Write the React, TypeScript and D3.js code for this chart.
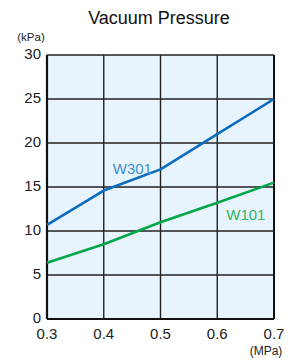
import React, { useEffect, useRef } from 'react'
import * as d3 from 'd3'

const pressures = [0.3, 0.4, 0.5, 0.6, 0.7]
const w301 = [10.7, 14.6, 17.0, 21.0, 25.0]
const w101 = [6.4, 8.5, 11.0, 13.2, 15.5]
const yTicks = [0, 5, 10, 15, 20, 25, 30]

const series = [
  { name: 'W301', values: w301, color: '#0b6cbf', labelColor: '#3d8fd1', labelAt: [0.4, 16.5] },
  { name: 'W101', values: w101, color: '#00a648', labelColor: '#2fb462', labelAt: [0.6, 11.3] },
]

const W = 298
const H = 358
const margin = { top: 55, right: 24, bottom: 39, left: 47 }

const App = () => {
  const ref = useRef<SVGGElement>(null)

  useEffect(() => {
    const g = d3.select(ref.current)
    g.selectAll('*').remove()
    const iw = W - margin.left - margin.right
    const ih = H - margin.top - margin.bottom
    const x = d3.scaleLinear().domain([0.3, 0.7]).range([0, iw])
    const y = d3.scaleLinear().domain([0, 30]).range([ih, 0])
    const font = '"Liberation Sans", Arial, sans-serif'

    g.append('rect')
      .attr('width', iw)
      .attr('height', ih)
      .attr('fill', '#e8f4fd')

    // grid
    g.selectAll('line.h')
      .data(yTicks)
      .enter()
      .append('line')
      .attr('x1', 0)
      .attr('x2', iw)
      .attr('y1', d => y(d))
      .attr('y2', d => y(d))
      .attr('stroke', '#222')
      .attr('stroke-width', 1.4)
    g.selectAll('line.v')
      .data(pressures)
      .enter()
      .append('line')
      .attr('y1', 0)
      .attr('y2', ih)
      .attr('x1', d => x(d))
      .attr('x2', d => x(d))
      .attr('stroke', '#222')
      .attr('stroke-width', 1.4)

    // frame left & bottom heavier
    g.append('line').attr('x1', 0).attr('x2', 0).attr('y1', 0).attr('y2', ih)
      .attr('stroke', '#111').attr('stroke-width', 2.2)
    g.append('line').attr('x1', 0).attr('x2', iw).attr('y1', ih).attr('y2', ih)
      .attr('stroke', '#111').attr('stroke-width', 2.2)
    g.append('line').attr('x1', iw).attr('x2', iw).attr('y1', 0).attr('y2', ih)
      .attr('stroke', '#111').attr('stroke-width', 2)

    const line = d3.line<number>()
      .x((d, i) => x(pressures[i]))
      .y(d => y(d))

    series.forEach(s => {
      g.append('path')
        .datum(s.values)
        .attr('d', line)
        .attr('fill', 'none')
        .attr('stroke', s.color)
        .attr('stroke-width', 2.6)
        .attr('stroke-linejoin', 'round')
      g.append('text')
        .attr('x', x(s.labelAt[0]) + 9)
        .attr('y', y(s.labelAt[1]))
        .attr('fill', s.labelColor)
        .attr('font-family', font)
        .attr('font-size', 15)
        .text(s.name)
    })

    // axis labels
    g.selectAll('text.yt')
      .data(yTicks)
      .enter()
      .append('text')
      .attr('x', -6)
      .attr('y', d => y(d) + 4)
      .attr('text-anchor', 'end')
      .attr('font-family', font)
      .attr('font-size', 15)
      .attr('fill', '#222')
      .text(d => d)
    g.selectAll('text.xt')
      .data(pressures)
      .enter()
      .append('text')
      .attr('x', d => x(d))
      .attr('y', ih + 20)
      .attr('text-anchor', 'middle')
      .attr('font-family', font)
      .attr('font-size', 15)
      .attr('fill', '#222')
      .text(d => d3.format('.1f')(d))
  }, [])

  return (
    <svg width={W} height={H} style={{ position: 'absolute', left: 0, top: 0 }}>
      <text x={159} y={24} textAnchor="middle" fontFamily='"Liberation Sans", Arial, sans-serif' fontSize={18} fill="#111">
        Vacuum Pressure
      </text>
      <text x={31} y={41} textAnchor="middle" fontFamily='"Liberation Sans", Arial, sans-serif' fontSize={11.5} fill="#222">
        (kPa)
      </text>
      <text x={266} y={355} textAnchor="middle" fontFamily='"Liberation Sans", Arial, sans-serif' fontSize={12} fill="#222">
        (MPa)
      </text>
      <g ref={ref} transform={`translate(${margin.left},${margin.top})`} />
    </svg>
  )
}

export default App
